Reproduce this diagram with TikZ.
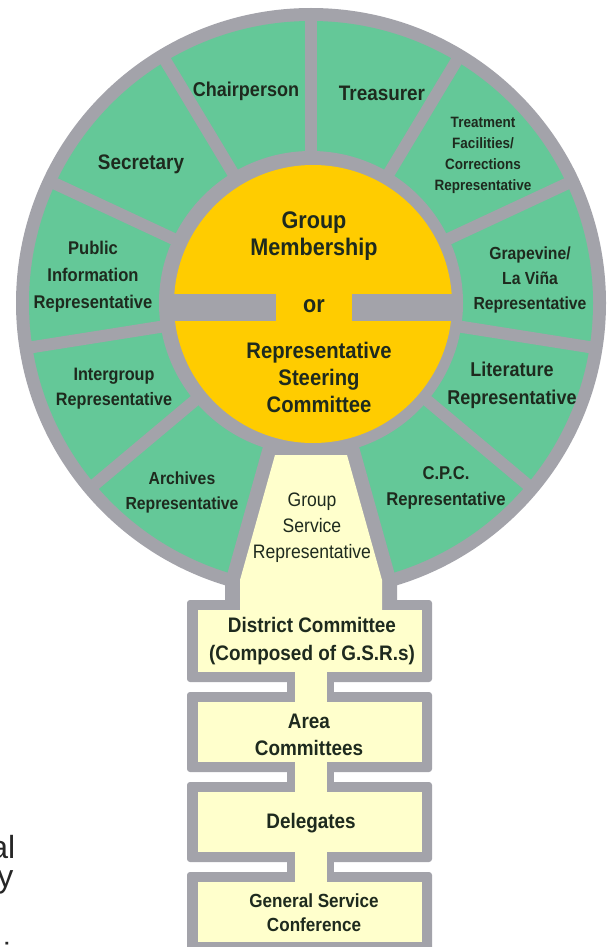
\documentclass[tikz,border=0pt]{standalone}
\usepackage{fontspec}
\setmainfont{Liberation Sans}[FakeStretch=0.9]
\newfontfamily\plainsans{Liberation Sans}
\definecolor{ringgray}{RGB}{163,163,170}
\definecolor{secgreen}{RGB}{100,200,152}
\definecolor{coreyellow}{RGB}{255,204,0}
\definecolor{paleyellow}{RGB}{255,255,204}
\definecolor{txt}{RGB}{30,42,30}
\newcommand\lfs[2]{\fontsize{#1}{#2}\selectfont}
\begin{document}
\begin{tikzpicture}[x=1pt,y=-1pt,
  lab/.style={align=center, text=txt, inner sep=0pt},
  spoke/.style={ringgray, line width=12pt},
  boxgray/.style={fill=ringgray, rounded corners=3pt},
  boxpale/.style={fill=paleyellow}]
\useasboundingbox (0,0) rectangle (615,947);
\fill[white] (0,0) rectangle (615,947);
\coordinate (C) at (311,303);
\coordinate (Y) at (313,304);
% wheel
\fill[ringgray] (C) circle[radius=295pt];
\fill[secgreen] (C) circle[radius=282pt];
\foreach \a in {90,59,25,-9,-40,121,155,189,220}
  \draw[spoke] (C) -- ++(\a:290pt);
% pedestal border
\fill[ringgray] (264,443) -- (358,443) -- (397,582) -- (397,606) -- (225,606) -- (225,582) -- cycle;
% core
\fill[ringgray] (C) circle[radius=152pt];
\fill[coreyellow] (Y) circle[radius=139pt];
\fill[ringgray] (165,294) rectangle (276,321);
\fill[ringgray] (352,294) rectangle (462,321);
% boxes (gray)
\foreach \t/\b in {600/682, 692/772, 782/862, 872/952}
  \fill[boxgray] (187,\t) rectangle (432,\b);
\foreach \t/\b in {680/694, 770/784, 860/874}
  \fill[ringgray] (287,\t) rectangle (334,\b);
% pale fills
\fill[boxpale] (275,455) -- (347,455) -- (382,580) -- (382,612) -- (240,612) -- (240,580) -- cycle;
\foreach \t/\b in {610/672, 702/762, 792/852, 882/942}
  \fill[boxpale] (198,\t) rectangle (422,\b);
\foreach \t/\b in {670/704, 760/794, 850/884}
  \fill[boxpale] (295,\t) rectangle (327,\b);
% labels
\node[lab, font=\lfs{20}{24}\bfseries] (chair) at (246,91) {Chairperson};
\node[lab, font=\lfs{21}{24}\bfseries] (treas) at (382,93) {Treasurer};
\node[lab, font=\lfs{21}{24}\bfseries] (secr) at (141,164) {Secretary};
\node[lab, font=\lfs{15}{21}\bfseries] (treat) at (483,155) {Treatment\\Facilities/\\Corrections\\Representative};
\node[lab, font=\lfs{17.5}{25}\bfseries] (grape) at (530,280) {Grapevine/\\La Viña\\Representative};
\node[lab, font=\lfs{20}{28}\bfseries] (lit) at (512,385) {Literature\\Representative};
\node[lab, font=\lfs{18.5}{26}\bfseries] (cpc) at (446,488) {C.P.C.\\Representative};
\node[lab, font=\lfs{19.5}{26}] (gsr) at (312,528) {Group\\Service\\Representative};
\node[lab, font=\lfs{17.5}{25}\bfseries] (arch) at (182,492) {Archives\\Representative};
\node[lab, font=\lfs{18}{25}\bfseries] (inter) at (114,389) {Intergroup\\Representative};
\node[lab, font=\lfs{18.4}{27}\bfseries] (pub) at (93,277) {Public\\Information\\Representative};
\node[lab, font=\lfs{24}{27}\bfseries] (gm) at (314,236) {Group\\Membership};
\node[lab, font=\lfs{24}{27}\bfseries] (or) at (314,306) {or};
\node[lab, font=\lfs{22.5}{27}\bfseries] (rsc) at (319,377) {Representative\\Steering\\Committee};
\node[lab, font=\lfs{21}{28}\bfseries] (dist) at (312,641) {District Committee\\(Composed of G.S.R.s)};
\node[lab, font=\lfs{21}{27}\bfseries] (area) at (309,735) {Area\\Committees};
\node[lab, font=\lfs{21}{24}\bfseries] (deleg) at (311,823) {Delegates};
\node[lab, font=\lfs{19}{24}\bfseries] (gsc) at (314,913) {General Service\\Conference};
% cut-off text at left edge
\node[inner sep=0pt, anchor=base east, text=black!85, font=\plainsans\lfs{32}{32}] (fa) at (15.5,858) {al};
\node[inner sep=0pt, anchor=base east, text=black!85, font=\plainsans\lfs{32}{32}] (fy) at (13.5,887) {y};
\node[inner sep=0pt, anchor=base, text=black!85, font=\plainsans\lfs{32}{32}] (fi) at (7,965) {i};
\end{tikzpicture}
\end{document}
